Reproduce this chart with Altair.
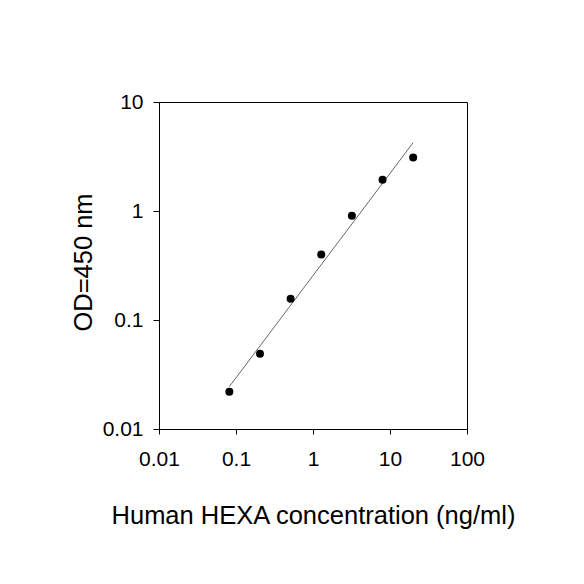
import altair as alt
import pandas as pd

conc = [0.082, 0.205, 0.512, 1.28, 3.2, 8, 20]
od = [0.022, 0.049, 0.157, 0.40, 0.905, 1.94, 3.10]
fit_x = [0.082, 20]
fit_y = [0.0245, 4.24]
x_ticks = [0.01, 0.1, 1, 10, 100]
y_ticks = [0.01, 0.1, 1, 10]

pts = pd.DataFrame({"x": conc, "y": od})
fit = pd.DataFrame({"x": fit_x, "y": fit_y})

FONT = "Liberation Sans"

xenc = alt.X(
    "x:Q",
    scale=alt.Scale(type="log", domain=[0.01, 100], nice=False),
    axis=alt.Axis(
        values=x_ticks, format="~g", title="Human HEXA concentration (ng/ml)",
        grid=False, tickSize=5, labelPadding=31, labelBaseline="alphabetic",
        labelFontSize=21, labelFont=FONT, labelColor="black",
        titleFontSize=25.5, titleFont=FONT, titleFontWeight="normal", titleColor="black",
        titleY=94, titleBaseline="alphabetic",
        domainColor="black", tickColor="black", labelFlush=False, labelOverlap=False,
    ),
)
yenc = alt.Y(
    "y:Q",
    scale=alt.Scale(type="log", domain=[0.01, 10], nice=False),
    axis=alt.Axis(
        values=y_ticks, format="~g", title="OD=450 nm",
        grid=False, tickSize=6, labelPadding=10,
        labelFontSize=21, labelFont=FONT, labelColor="black",
        titleFontSize=25.5, titleFont=FONT, titleFontWeight="normal", titleColor="black",
        titleX=-68, titleY=160, titleAngle=270, titleBaseline="alphabetic",
        domainColor="black", tickColor="black", labelFlush=False, labelOverlap=False,
    ),
)

line = alt.Chart(fit).mark_line(color="#666666", strokeWidth=1).encode(x=xenc, y=yenc)
dots = alt.Chart(pts).mark_circle(color="black", size=64, opacity=1).encode(x=xenc, y=yenc)

chart = (
    alt.layer(line, dots)
    .properties(
        width=308, height=327,
        autosize=alt.AutoSizeParams(type="none"),
        padding={"left": 151, "top": 94, "right": 100, "bottom": 140},
        background="white",
    )
    .configure_view(stroke="black", strokeWidth=1)
)

chart.save("out.html", embed_options={"renderer": "svg", "actions": False})
